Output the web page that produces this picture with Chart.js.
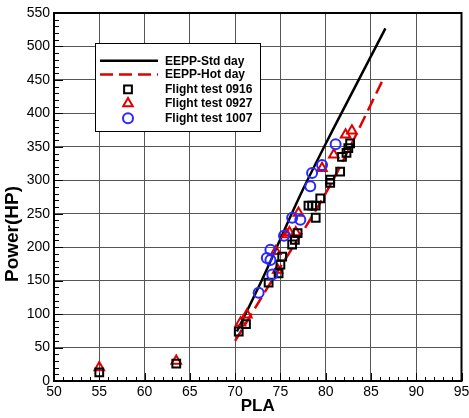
<!DOCTYPE html>
<html><head><meta charset="utf-8">
<script src="https://cdn.jsdelivr.net/npm/chart.js@4"></script>
<style>html,body{margin:0;padding:0;background:#fff}</style>
</head><body>
<canvas id="c" width="469" height="418"></canvas>
<script>
const xTicks = [50,55,60,65,70,75,80,85,90,95];
const yTicks = [0,50,100,150,200,250,300,350,400,450,500,550];
const xTitle = 'PLA';
const yTitle = 'Power(HP)';
const legendLabels = ['EEPP-Std day','EEPP-Hot day','Flight test 0916','Flight test 0927','Flight test 1007'];

const stdPLA = [70.2, 73.0, 77.2, 80.7, 86.6];
const stdHP  = [74, 152, 278, 373, 527];
const hotPLA = [70.0, 74.1, 79.6, 81.8, 86.2];
const hotHP  = [60, 151, 271, 326, 447];

const f0916PLA = [55, 63.5, 70.4, 71.2, 73.7, 74.8, 75.0, 75.2, 76.3, 76.6, 76.9, 78.1, 78.5, 78.9, 78.9, 79.4, 80.5, 80.5, 81.6, 81.8, 82.3, 82.5, 82.7];
const f0916HP  = [13, 26, 74, 85, 147, 161, 174, 186, 204, 211, 221, 262, 262, 262, 244, 273, 296, 301, 313, 335, 341, 348, 355];
const f0927PLA = [55, 63.5, 70.6, 71.3, 74.5, 74.7, 75.7, 76.0, 76.7, 77.0, 79.6, 80.9, 82.2, 82.9];
const f0927HP  = [20, 30, 87, 99, 194, 166, 219, 222, 222, 251, 318, 338, 368, 374];
const f1007PLA = [72.6, 73.5, 73.9, 73.9, 74.1, 75.4, 76.3, 77.2, 78.3, 78.5, 79.6, 81.1];
const f1007HP  = [132, 184, 181, 196, 159, 217, 244, 241, 291, 311, 323, 354];

const pts = (xs, ys) => xs.map((x, i) => ({x: x, y: ys[i]}));
const RED = 'rgb(225,0,0)';
const BLUE = 'rgb(40,40,255)';
const FONT = '"Liberation Sans", Arial, sans-serif';

const frame = {
  id: 'frame',
  afterDraw(chart) {
    const ctx = chart.ctx, a = chart.chartArea;
    const xs = chart.scales.x, ys = chart.scales.y;
    ctx.save();
    ctx.strokeStyle = '#000';
    ctx.lineWidth = 1;
    ctx.beginPath();
    for (let v = xs.min; v <= xs.max + 1e-9; v += 1) {
      const px = Math.round(xs.getPixelForValue(v)) + 0.5;
      const major = Math.abs(v % 5) < 1e-9;
      ctx.moveTo(px, a.bottom);
      ctx.lineTo(px, a.bottom - (major ? 8 : 4));
    }
    for (let v = ys.min; v <= ys.max + 1e-9; v += 10) {
      const py = Math.round(ys.getPixelForValue(v)) + 0.5;
      const major = Math.abs(v % 50) < 1e-9;
      ctx.moveTo(a.left, py);
      ctx.lineTo(a.left + (major ? 9 : 5), py);
    }
    ctx.stroke();
    ctx.lineWidth = 2;
    ctx.strokeRect(a.left, a.top, a.right - a.left, a.bottom - a.top);
    // y axis title
    ctx.save();
    ctx.fillStyle = '#000';
    ctx.font = 'bold 19px ' + FONT;
    ctx.textAlign = 'center';
    ctx.textBaseline = 'middle';
    ctx.translate(13, 234);
    ctx.rotate(-Math.PI / 2);
    ctx.fillText(yTitle, 0, 0);
    ctx.restore();
    // legend
    const bx = 95, by = 43, bw = 165, bh = 88;
    ctx.fillStyle = '#fff';
    ctx.fillRect(bx, by, bw, bh);
    ctx.lineWidth = 1;
    ctx.strokeStyle = '#000';
    ctx.strokeRect(bx + 0.5, by + 0.5, bw, bh);
    const rows = [60.7, 74.5, 89.3, 103.5, 118.3];
    ctx.font = 'bold 12px ' + FONT;
    ctx.textBaseline = 'middle';
    ctx.textAlign = 'left';
    chart.data.datasets.forEach((ds, i) => {
      const y = rows[i];
      ctx.save();
      ctx.strokeStyle = ds.borderColor;
      ctx.lineWidth = ds.borderWidth;
      ctx.fillStyle = 'rgba(0,0,0,0)';
      if (ds.showLine) {
        ctx.setLineDash(ds.borderDash || []);
        ctx.beginPath();
        ctx.moveTo(100, y); ctx.lineTo(158, y);
        ctx.stroke();
      } else {
        Chart.helpers.drawPoint(ctx, {pointStyle: ds.pointStyle, radius: ds.pointRadius, borderWidth: ds.borderWidth, rotation: 0}, 128, y);
      }
      ctx.restore();
      ctx.fillStyle = '#000';
      ctx.fillText(ds.label, 165, y + 0.5);
    });
    ctx.restore();
  }
};

new Chart(document.getElementById('c'), {
  type: 'scatter',
  data: {
    datasets: [
      {label: legendLabels[0], data: pts(stdPLA, stdHP), showLine: true, borderColor: '#000', borderWidth: 2.5, pointRadius: 0, cubicInterpolationMode: 'monotone', order: 2},
      {label: legendLabels[1], data: pts(hotPLA, hotHP), showLine: true, borderColor: RED, borderWidth: 2.5, borderDash: [13, 6], pointRadius: 0, cubicInterpolationMode: 'monotone', order: 2},
      {label: legendLabels[2], data: pts(f0916PLA, f0916HP), pointStyle: 'rect', pointRadius: 5.5, borderWidth: 2, borderColor: '#000', backgroundColor: 'rgba(0,0,0,0)', order: 1},
      {label: legendLabels[3], data: pts(f0927PLA, f0927HP), pointStyle: 'triangle', pointRadius: 5.5, borderWidth: 2, borderColor: RED, backgroundColor: 'rgba(0,0,0,0)', order: 1},
      {label: legendLabels[4], data: pts(f1007PLA, f1007HP), pointStyle: 'circle', pointRadius: 5, borderWidth: 2, borderColor: BLUE, backgroundColor: 'rgba(0,0,0,0)', order: 0}
    ]
  },
  options: {
    responsive: false,
    animation: false,
    layout: {padding: {top: 13, right: 7, left: 0, bottom: 0}},
    plugins: {legend: {display: false}, tooltip: {enabled: false}},
    scales: {
      x: {
        type: 'linear', min: 50, max: 95,
        afterBuildTicks: s => { s.ticks = xTicks.map(v => ({value: v})); },
        afterFit: s => { s.height = 37; s.paddingRight = 0; s.paddingLeft = 0; },
        ticks: {color: '#000', padding: 3, maxRotation: 0, autoSkip: false, font: {family: FONT, size: 14}},
        grid: {color: '#555', lineWidth: 1, drawTicks: false},
        border: {display: false},
        title: {display: true, text: xTitle, color: '#000', padding: {top: 0, bottom: 1}, font: {family: FONT, size: 17, weight: 'bold'}}
      },
      y: {
        type: 'linear', min: 0, max: 550,
        afterBuildTicks: s => { s.ticks = yTicks.map(v => ({value: v})); },
        afterFit: s => { s.width = 54; s.paddingTop = 0; s.paddingBottom = 0; },
        ticks: {color: '#000', padding: 4, autoSkip: false, font: {family: FONT, size: 14}},
        grid: {color: '#555', lineWidth: 1, drawTicks: false},
        border: {display: false}
      }
    }
  },
  plugins: [frame]
});
</script>
</body></html>
